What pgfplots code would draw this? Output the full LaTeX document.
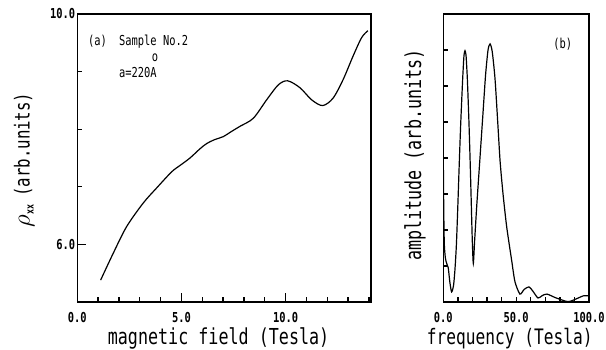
\documentclass[border=0pt]{standalone}
\usepackage{fontspec}
\usepackage{pgfplots}
\pgfplotsset{compat=1.18}
\newfontfamily\pf[FakeStretch=0.76]{DejaVu Sans Mono}
\begin{document}
\begin{tikzpicture}
\path[use as bounding box] (0,0) rectangle (606pt,350pt);
\pgfplotsset{
  common/.style={
    scale only axis, height=288pt,
    axis line style={line width=1.2pt},
    tick align=inside, xtick pos=left, ytick pos=left,
    xtick style={draw=black, line width=1.3pt},
    ytick style={draw=black, line width=1.3pt},
    xticklabel style={font=\pf\bfseries\fontsize{13.7}{14}\selectfont, anchor=center, yshift=-16pt},
    yticklabel style={font=\pf\bfseries\fontsize{13.7}{14}\selectfont, anchor=east, inner sep=0pt, xshift=-2pt},
    label style={font=\pf\fontsize{22}{24}\selectfont},
  }
}
% left panel
\begin{axis}[common,
  at={(77.3pt,48pt)}, anchor=south west, width=293.7pt,
  xmin=0, xmax=14.1, ymin=5, ymax=10,
  xtick={0,5,10}, xticklabels={0.0,5.0,10.0},
  minor xtick={1,2,3,4,6,7,8,9,11,12,13,14},
  ytick={6,10}, yticklabels={6.0,10.0},
  minor ytick={7,8,9},
  major tick length=9pt, minor tick length=5pt,
  xlabel={magnetic field (Tesla)},
  xlabel style={at={(axis description cs:0.481,-0.127)}, anchor=center},
  ylabel={{\fontsize{27}{27}\selectfont$\rho$}\raisebox{-4pt}{\pf\bfseries\fontsize{11}{11}\selectfont xx}\hspace{8pt}{\fontsize{20.7}{22}\selectfont(arb.units)}},
  ylabel style={at={(axis description cs:-0.181,0.493)}, anchor=center, rotate=0},
]
\addplot[line width=1.2pt, smooth, tension=0.5] coordinates {
(1.12,5.38) (1.73,5.85) (2.37,6.31) (3.17,6.72) (3.81,6.98) (4.53,7.26)
(4.93,7.37) (5.41,7.50) (5.89,7.66) (6.21,7.75) (6.6,7.82) (7.0,7.87)
(7.4,7.96) (7.81,8.05) (8.45,8.19) (9.09,8.51) (9.65,8.77) (10.1,8.84)
(10.69,8.72) (11.25,8.51) (11.78,8.41) (12.28,8.54) (12.76,8.86) (13.24,9.27)
(13.65,9.59) (13.95,9.71)
};
\node[font=\pf\fontsize{13.7}{14}\selectfont, anchor=center] at (axis cs:0.97,9.52) {(a)};
\node[font=\pf\fontsize{13.7}{14}\selectfont, anchor=west, inner sep=0pt] at (axis cs:2.0,9.52) {Sample No.2};
\node[font=\pf\fontsize{13.7}{14}\selectfont, anchor=center, inner sep=0pt] at (axis cs:3.73,9.24) {o};
\node[font=\pf\fontsize{13.7}{14}\selectfont, anchor=west, inner sep=0pt] at (axis cs:2.0,8.98) {a=220A};
\end{axis}
% right panel
\begin{axis}[common,
  at={(443.3pt,48pt)}, anchor=south west, width=145.7pt,
  xmin=0, xmax=100, ymin=0, ymax=8,
  xtick={0,10,...,100}, xticklabels={0.0,,,,,50.0,,,,,100.0},
  ytick={1,...,7}, yticklabels={},
  major tick length=5pt,
  xlabel={frequency (Tesla)},
  xlabel style={font=\pf\fontsize{21.3}{23}\selectfont, at={(axis description cs:0.456,-0.127)}, anchor=center},
  ylabel={amplitude (arb.units)},
  ylabel style={at={(axis description cs:-0.194,0.51)}, anchor=center},
]
\addplot[line width=1.2pt, smooth, tension=0.4] coordinates {
(0,4.0) (0.3,2.6) (0.7,1.6) (1.5,1.2) (2.5,1.05) (3.4,0.95) (4.5,0.55)
(5.7,0.28) (7,0.45) (8,0.9) (9,1.6) (10,2.7) (11,3.9) (12,5.0)
(13.3,6.2) (14.2,6.85) (14.9,6.98) (15.6,6.85) (16.5,6.2) (17.6,5.0)
(18.5,3.8) (19.3,2.6) (19.9,1.7) (20.6,1.07) (21.5,1.7) (23,2.7)
(25,3.9) (27,5.1) (29,6.3) (30.7,7.0) (32.1,7.17) (33.6,6.95) (35.5,6.2)
(37.5,4.9) (39,3.9) (41,3.0) (43.5,2.09) (46.9,1.16) (49.2,0.56)
(52.6,0.22) (55.5,0.35) (58.8,0.42) (61.5,0.3) (65,0.11)
(68,0.18) (71.2,0.22) (77,0.12) (85.6,0.01) (92,0.1) (96,0.17) (100,0.17)
};
\node[font=\pf\fontsize{13.7}{14}\selectfont, anchor=center] at (axis cs:82,7.16) {(b)};
\end{axis}
\end{tikzpicture}
\end{document}
